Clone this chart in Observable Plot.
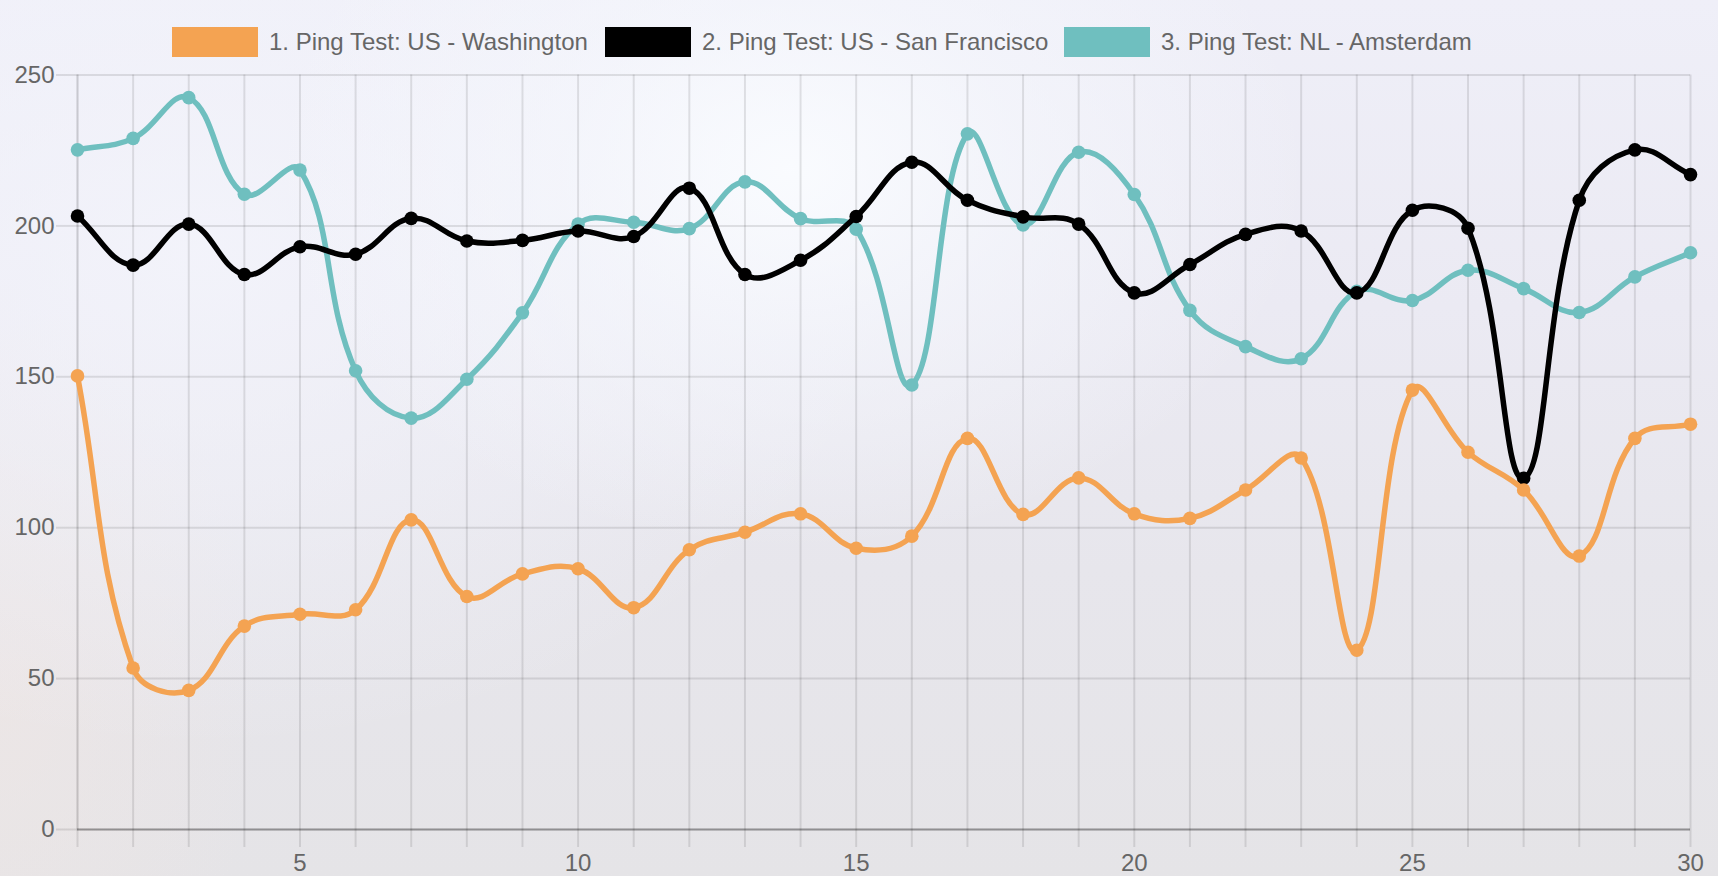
<!DOCTYPE html>
<html>
<head>
<meta charset="utf-8">
<script src="https://cdn.jsdelivr.net/npm/d3@7"></script>
<script src="https://cdn.jsdelivr.net/npm/@observablehq/plot@0.6"></script>
<style>
  html, body { margin: 0; padding: 0; width: 1718px; height: 876px; overflow: hidden; }
  body {
    font-family: "Liberation Sans", Arial, Helvetica, sans-serif;
    background:
      radial-gradient(ellipse 520px 380px at 790px 170px, rgba(250,252,255,0.95) 0%, rgba(246,248,253,0.6) 45%, rgba(240,241,250,0) 100%),
      radial-gradient(ellipse 700px 500px at 200px 250px, rgba(244,245,252,0.8) 0%, rgba(240,240,250,0) 100%),
      radial-gradient(ellipse 260px 420px at 0px 700px, rgba(238,230,228,0.7) 0%, rgba(238,230,228,0) 100%),
      linear-gradient(180deg, #efeff8 0%, #ebeaf3 35%, #e7e6ec 65%, #e5e4e7 100%);
  }
  #legend { position: relative; height: 60px; }
  .item { position: absolute; top: 27px; display: flex; align-items: center; height: 30px; }
  .box { width: 86px; height: 30px; margin-right: 11px; }
  .lbl { font-size: 24px; color: #666; white-space: nowrap; line-height: 30px; }
</style>
</head>
<body>
<div id="legend"></div>
<div id="chart"></div>
<script>
// ---- data ----
const days = [1,2,3,4,5,6,7,8,9,10,11,12,13,14,15,16,17,18,19,20,21,22,23,24,25,26,27,28,29,30];
const washington = [150.3, 53.5, 46.1, 67.4, 71.3, 72.8, 102.6, 77.2, 84.7, 86.4, 73.5, 92.7, 98.5, 104.6, 93.2, 97.2, 129.6, 104.4, 116.5, 104.6, 103.1, 112.5, 123.1, 59.4, 145.6, 125.0, 112.5, 90.6, 129.6, 134.3];
const sanFrancisco = [203.3, 187.0, 200.6, 183.9, 193.1, 190.6, 202.5, 195.0, 195.2, 198.3, 196.5, 212.5, 183.9, 188.6, 203.1, 221.1, 208.5, 203.0, 200.6, 177.8, 187.2, 197.2, 198.3, 177.8, 205.2, 199.2, 116.4, 208.5, 225.2, 217.0];
const amsterdam = [225.2, 229.0, 242.5, 210.5, 218.5, 152.0, 136.3, 149.2, 171.2, 200.6, 201.2, 199.1, 214.6, 202.4, 198.9, 147.3, 230.5, 200.3, 224.4, 210.4, 172.0, 160.0, 156.0, 178.3, 175.3, 185.3, 179.2, 171.3, 183.1, 191.1];
const seriesNames = ["1. Ping Test: US - Washington", "2. Ping Test: US - San Francisco", "3. Ping Test: NL - Amsterdam"];
const seriesColors = ["#f4a352", "#000000", "#6fbfbf"];
const yTicks = [0, 50, 100, 150, 200, 250];
const xTickLabels = [5, 10, 15, 20, 25, 30];

// ---- legend ----
const legendLeft = [172, 605, 1064];
const legend = document.getElementById("legend");
seriesNames.forEach((name, i) => {
  const it = document.createElement("div");
  it.className = "item";
  it.style.left = legendLeft[i] + "px";
  const b = document.createElement("div");
  b.className = "box";
  b.style.background = seriesColors[i];
  const t = document.createElement("span");
  t.className = "lbl";
  t.textContent = name;
  it.appendChild(b); it.appendChild(t);
  legend.appendChild(it);
});

// ---- Chart.js-like spline curve (tension 0.4) ----
function chartjsCurve(context) {
  let pts;
  return {
    areaStart() {}, areaEnd() {},
    lineStart() { pts = []; },
    point(x, y) { pts.push([+x, +y]); },
    lineEnd() {
      const n = pts.length, t = 0.4;
      if (!n) return;
      const cp = pts.map((p, i) => {
        const a = pts[Math.max(0, i - 1)], b = pts[Math.min(n - 1, i + 1)];
        const d01 = Math.hypot(p[0] - a[0], p[1] - a[1]);
        const d12 = Math.hypot(b[0] - p[0], b[1] - p[1]);
        let s01 = d01 / (d01 + d12), s12 = d12 / (d01 + d12);
        if (isNaN(s01)) s01 = 0;
        if (isNaN(s12)) s12 = 0;
        const fa = t * s01, fb = t * s12;
        return {
          px: p[0] - fa * (b[0] - a[0]), py: p[1] - fa * (b[1] - a[1]),
          nx: p[0] + fb * (b[0] - a[0]), ny: p[1] + fb * (b[1] - a[1])
        };
      });
      context.moveTo(pts[0][0], pts[0][1]);
      for (let i = 1; i < n; i++) {
        context.bezierCurveTo(cp[i - 1].nx, cp[i - 1].ny, cp[i].px, cp[i].py, pts[i][0], pts[i][1]);
      }
    }
  };
}

const seriesValues = [washington, sanFrancisco, amsterdam];
const tables = seriesValues.map(vals => days.map((d, i) => ({day: d, value: vals[i]})));

// draw order: last dataset first (Chart.js style)
const seriesMarks = [];
[2, 1, 0].forEach(k => {
  seriesMarks.push(Plot.line(tables[k], {x: "day", y: "value", stroke: seriesColors[k], strokeWidth: 5.5, curve: chartjsCurve}));
  seriesMarks.push(Plot.dot(tables[k], {x: "day", y: "value", fill: seriesColors[k], r: 6.8, stroke: "none"}));
});

const chart = Plot.plot({
  width: 1718,
  height: 816,
  marginLeft: 77,
  marginRight: 28,
  marginTop: 14.5,
  marginBottom: 47,
  style: {background: "transparent", fontFamily: "'Liberation Sans', Arial, Helvetica, sans-serif", fontSize: "24px", color: "#666"},
  x: {domain: [1, 30]},
  y: {domain: [0, 250]},
  marks: [
    Plot.gridY({ticks: yTicks, stroke: "#000", strokeOpacity: 0.1, strokeWidth: 2}),
    Plot.gridX({ticks: days, stroke: "#000", strokeOpacity: 0.1, strokeWidth: 2}),
    Plot.ruleX([days[0]], {stroke: "#000", strokeOpacity: 0.07, strokeWidth: 2}),
    Plot.axisY({ticks: yTicks, tickSize: 21, tickPadding: 2, stroke: "#000", strokeOpacity: 0.1, strokeWidth: 2, fill: "#666", fontSize: 24, label: null}),
    Plot.axisX({ticks: days, tickSize: 18, stroke: "#000", strokeOpacity: 0.1, strokeWidth: 2, tickFormat: () => "", label: null}),
    Plot.axisX({ticks: xTickLabels, tickSize: 0, tickPadding: 24, fill: "#666", fontSize: 24, label: null}),
    Plot.ruleY([0], {stroke: "#000", strokeOpacity: 0.3, strokeWidth: 2}),
    ...seriesMarks
  ]
});
document.getElementById("chart").appendChild(chart);
</script>
</body>
</html>
